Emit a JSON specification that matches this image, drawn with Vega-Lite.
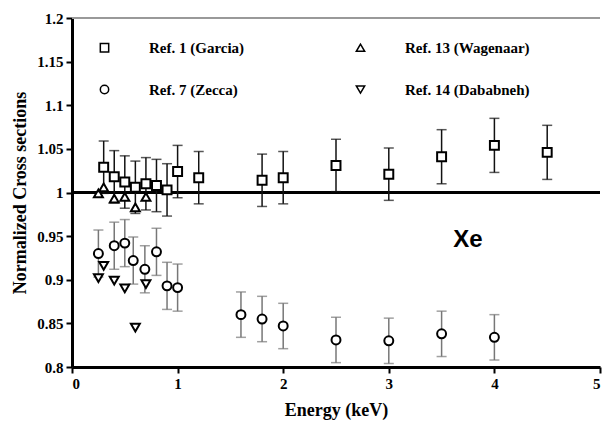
{
  "$schema": "https://vega.github.io/schema/vega-lite/v6.json",
  "width": 528,
  "height": 349,
  "autosize": "none",
  "padding": {"left": 72, "top": 18, "right": 8, "bottom": 59},
  "background": "white",
  "data": {"values": [
    {"series": "Ref. 1 (Garcia)", "E": 0.3, "v": 1.029, "err": 0.03},
    {"series": "Ref. 1 (Garcia)", "E": 0.4, "v": 1.018, "err": 0.03},
    {"series": "Ref. 1 (Garcia)", "E": 0.5, "v": 1.012, "err": 0.03},
    {"series": "Ref. 1 (Garcia)", "E": 0.6, "v": 1.006, "err": 0.03},
    {"series": "Ref. 1 (Garcia)", "E": 0.7, "v": 1.01, "err": 0.03},
    {"series": "Ref. 1 (Garcia)", "E": 0.8, "v": 1.008, "err": 0.03},
    {"series": "Ref. 1 (Garcia)", "E": 0.9, "v": 1.003, "err": 0.03},
    {"series": "Ref. 1 (Garcia)", "E": 1.0, "v": 1.024, "err": 0.03},
    {"series": "Ref. 1 (Garcia)", "E": 1.2, "v": 1.017, "err": 0.03},
    {"series": "Ref. 1 (Garcia)", "E": 1.8, "v": 1.014, "err": 0.03},
    {"series": "Ref. 1 (Garcia)", "E": 2.0, "v": 1.017, "err": 0.03},
    {"series": "Ref. 1 (Garcia)", "E": 2.5, "v": 1.031, "err": 0.03},
    {"series": "Ref. 1 (Garcia)", "E": 3.0, "v": 1.021, "err": 0.03},
    {"series": "Ref. 1 (Garcia)", "E": 3.5, "v": 1.041, "err": 0.031},
    {"series": "Ref. 1 (Garcia)", "E": 4.0, "v": 1.054, "err": 0.031},
    {"series": "Ref. 1 (Garcia)", "E": 4.5, "v": 1.046, "err": 0.031},
    {"series": "Ref. 13 (Wagenaar)", "E": 0.25, "v": 0.999},
    {"series": "Ref. 13 (Wagenaar)", "E": 0.3, "v": 1.006},
    {"series": "Ref. 13 (Wagenaar)", "E": 0.4, "v": 0.993},
    {"series": "Ref. 13 (Wagenaar)", "E": 0.5, "v": 0.995},
    {"series": "Ref. 13 (Wagenaar)", "E": 0.6, "v": 0.983},
    {"series": "Ref. 13 (Wagenaar)", "E": 0.7, "v": 0.995},
    {"series": "Ref. 7 (Zecca)", "E": 0.25, "v": 0.93, "err": 0.027},
    {"series": "Ref. 7 (Zecca)", "E": 0.4, "v": 0.939, "err": 0.027},
    {"series": "Ref. 7 (Zecca)", "E": 0.5, "v": 0.942, "err": 0.027},
    {"series": "Ref. 7 (Zecca)", "E": 0.58, "v": 0.922, "err": 0.027},
    {"series": "Ref. 7 (Zecca)", "E": 0.69, "v": 0.912, "err": 0.027},
    {"series": "Ref. 7 (Zecca)", "E": 0.8, "v": 0.932, "err": 0.027},
    {"series": "Ref. 7 (Zecca)", "E": 0.9, "v": 0.893, "err": 0.027},
    {"series": "Ref. 7 (Zecca)", "E": 1.0, "v": 0.891, "err": 0.027},
    {"series": "Ref. 7 (Zecca)", "E": 1.6, "v": 0.86, "err": 0.026},
    {"series": "Ref. 7 (Zecca)", "E": 1.8, "v": 0.855, "err": 0.026},
    {"series": "Ref. 7 (Zecca)", "E": 2.0, "v": 0.847, "err": 0.026},
    {"series": "Ref. 7 (Zecca)", "E": 2.5, "v": 0.831, "err": 0.026},
    {"series": "Ref. 7 (Zecca)", "E": 3.0, "v": 0.83, "err": 0.026},
    {"series": "Ref. 7 (Zecca)", "E": 3.5, "v": 0.838, "err": 0.026},
    {"series": "Ref. 7 (Zecca)", "E": 4.0, "v": 0.834, "err": 0.026},
    {"series": "Ref. 14 (Dababneh)", "E": 0.25, "v": 0.902},
    {"series": "Ref. 14 (Dababneh)", "E": 0.3, "v": 0.916},
    {"series": "Ref. 14 (Dababneh)", "E": 0.4, "v": 0.899},
    {"series": "Ref. 14 (Dababneh)", "E": 0.5, "v": 0.89},
    {"series": "Ref. 14 (Dababneh)", "E": 0.6, "v": 0.845},
    {"series": "Ref. 14 (Dababneh)", "E": 0.7, "v": 0.895}
  ]},
  "layer": [
    {
      "mark": {"type": "rule", "color": "#999999", "strokeWidth": 1},
      "encoding": {"y": {"datum": 1.2, "type": "quantitative"}}
    },
    {
      "mark": {"type": "rule", "color": "black", "strokeWidth": 2.5},
      "encoding": {"y": {"datum": 1.0, "type": "quantitative"}}
    },
    {
      "transform": [{"filter": "datum.err > 0"}],
      "mark": {"type": "errorbar", "ticks": {"size": 10, "thickness": 1.5}, "thickness": 1.5},
      "encoding": {
        "x": {"field": "E", "type": "quantitative", "title": "Energy (keV)"},
        "y": {"field": "v", "type": "quantitative", "title": "Normalized Cross sections"},
        "yError": {"field": "err"},
        "color": {"field": "series", "type": "nominal", "legend": null,
          "scale": {"domain": ["Ref. 1 (Garcia)", "Ref. 7 (Zecca)"], "range": ["#111111", "#777777"]}}
      }
    },
    {
      "mark": {"type": "point", "filled": false, "fill": "white", "stroke": "black", "strokeWidth": 2, "size": 80, "opacity": 1},
      "encoding": {
        "x": {"field": "E", "type": "quantitative", "title": "Energy (keV)",
          "scale": {"domain": [0, 5], "nice": false, "zero": false},
          "axis": {"values": [0, 1, 2, 3, 4, 5], "format": "d", "titlePadding": 10, "labelPadding": 3}},
        "y": {"field": "v", "type": "quantitative", "title": "Normalized Cross sections",
          "scale": {"domain": [0.8, 1.2], "nice": false, "zero": false},
          "axis": {"values": [0.8, 0.85, 0.9, 0.95, 1.0, 1.05, 1.1, 1.15, 1.2], "format": "~g", "titlePadding": 7, "labelPadding": 3}},
        "shape": {"field": "series", "type": "nominal",
          "scale": {"domain": ["Ref. 1 (Garcia)", "Ref. 7 (Zecca)", "Ref. 13 (Wagenaar)", "Ref. 14 (Dababneh)"],
                    "range": ["square", "circle", "triangle-up", "triangle-down"]},
          "legend": {"title": null, "orient": "none", "legendX": 25, "legendY": 22, "columns": 2,
            "columnPadding": 108, "rowPadding": 26, "labelOffset": 37,
            "symbolSize": 70,
            "labelFont": "Liberation Serif", "labelFontWeight": "bold", "labelFontSize": 15, "labelColor": "black",
            "encode": {"symbols": {"update": {"stroke": {"value": "black"}, "strokeWidth": {"value": 2.5}, "fill": {"value": "white"}, "opacity": {"value": 1}}}}}}
      }
    },
    {
      "data": {"values": [{"E": 3.75, "v": 0.945, "label": "Xe"}]},
      "mark": {"type": "text", "font": "Liberation Sans", "fontWeight": "bold", "fontSize": 24, "color": "black"},
      "encoding": {
        "x": {"field": "E", "type": "quantitative"},
        "y": {"field": "v", "type": "quantitative"},
        "text": {"field": "label"}
      }
    }
  ],
  "config": {
    "view": {"stroke": null},
    "axis": {"domainColor": "black", "domainWidth": 3, "tickColor": "black", "tickWidth": 2, "tickSize": 6, "grid": false,
      "labelFont": "Liberation Serif", "labelFontWeight": "bold", "labelFontSize": 15, "labelColor": "black",
      "titleFont": "Liberation Serif", "titleFontWeight": "bold", "titleFontSize": 18, "titleColor": "black"}
  }
}
